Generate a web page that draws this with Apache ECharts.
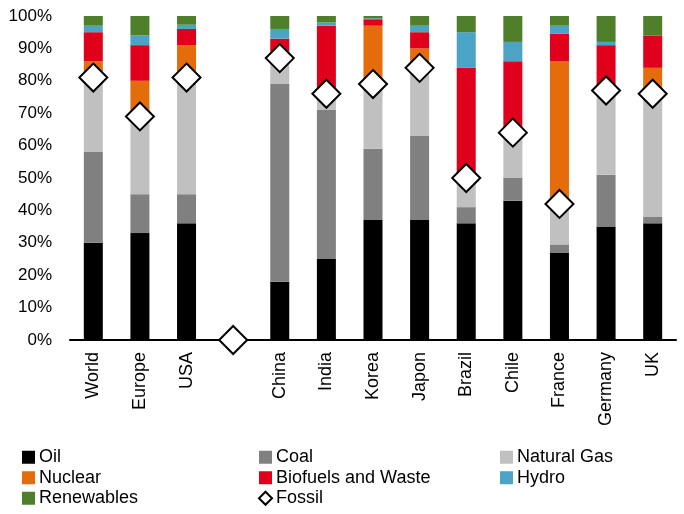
<!DOCTYPE html>
<html>
<head>
<meta charset="utf-8">
<script src="https://cdn.jsdelivr.net/npm/echarts@6/dist/echarts.min.js"></script>
<style>
  html, body { margin: 0; padding: 0; background: #fff; }
  #myChart { width: 684px; height: 514px; }
</style>
</head>
<body>
<div id="myChart"></div>
<script>
// categories, the empty one is the gap between regions and countries
const categories = ['World', 'Europe', 'USA', '', 'China', 'India', 'Korea', 'Japon', 'Brazil', 'Chile', 'France', 'Germany', 'UK']

// share of primary energy, %
const oil = [30, 33, 36, '-', 18, 25, 37, 37, 36, 43, 27, 35, 36]
const coal = [28, 12, 9, '-', 61, 46, 22, 26, 5, 7, 2.5, 16, 2]
const naturalGas = [23, 24, 36, '-', 8, 5, 20, 21, 9, 14, 12.5, 26, 38]
const nuclear = [5, 11, 10, '-', 2, 1, 18, 6, 1, 0, 44, 1, 8]
const biofuels = [9, 11, 5, '-', 4, 20, 2, 5, 33, 22, 8.5, 13, 10]
const hydro = [2, 3, 1.3, '-', 3, 1, 0.3, 2, 11, 6, 2.5, 1, 0]
const renewables = [3, 6, 2.7, '-', 4, 2, 0.7, 3, 5, 8, 3, 8, 6]
const fossil = [81, 69, 81, 0, 87, 76, 79, 84, 50, 64, 42, 77, 76]

const yTicks = [0, 10, 20, 30, 40, 50, 60, 70, 80, 90, 100]

const font = 'Liberation Sans, Arial, sans-serif'

function barSeries (name, data, color) {
  return {
    name: name,
    type: 'bar',
    stack: 'mix',
    barWidth: 19,
    data: data,
    itemStyle: { color: color },
    emphasis: { disabled: true }
  }
}

// one vertical legend per column, like the original 3 column layout
function legend (left, names) {
  return {
    left: left,
    top: 447,
    height: 80,
    padding: 0,
    orient: 'vertical',
    itemWidth: 13,
    itemHeight: 13,
    itemGap: 0,
    icon: 'rect',
    data: names.map(n => n === 'Fossil' ? { name: n, icon: 'diamond' } : n),
    textStyle: { fontFamily: font, fontSize: 18, color: '#000', lineHeight: 20.5, padding: [0, 0, 0, -1] }
  }
}

const chart = echarts.init(document.getElementById('myChart'))
chart.setOption({
  animation: false,
  backgroundColor: '#fff',
  grid: { left: 70, right: 8, top: 16, bottom: 174, containLabel: false },
  legend: [
    legend(22, ['Oil', 'Nuclear', 'Renewables']),
    legend(258, ['Coal', 'Biofuels and Waste', 'Fossil']),
    legend(500, ['Natural Gas', 'Hydro'])
  ],
  xAxis: {
    type: 'category',
    data: categories,
    axisLine: { lineStyle: { color: '#000', width: 2 } },
    axisTick: { show: false },
    axisLabel: { rotate: 90, margin: 12, fontSize: 18, color: '#000', fontFamily: font, interval: 0 }
  },
  yAxis: {
    type: 'value',
    min: yTicks[0],
    max: yTicks[yTicks.length - 1],
    interval: 10,
    axisLine: { show: false },
    axisTick: { show: false },
    splitLine: { show: false },
    axisLabel: { formatter: '{value}%', margin: 18, fontSize: 17, color: '#000', fontFamily: font }
  },
  series: [
    barSeries('Oil', oil, '#000000'),
    barSeries('Coal', coal, '#808080'),
    barSeries('Natural Gas', naturalGas, '#c0c0c0'),
    barSeries('Nuclear', nuclear, '#e46c0a'),
    barSeries('Biofuels and Waste', biofuels, '#e0001b'),
    barSeries('Hydro', hydro, '#4ba3c6'),
    barSeries('Renewables', renewables, '#4f7f2b'),
    {
      name: 'Fossil',
      type: 'scatter',
      symbol: 'diamond',
      symbolSize: 28,
      z: 5,
      data: fossil,
      itemStyle: { color: '#fff', borderColor: '#000', borderWidth: 2, opacity: 1 },
      emphasis: { disabled: true }
    }
  ]
})
</script>
</body>
</html>
